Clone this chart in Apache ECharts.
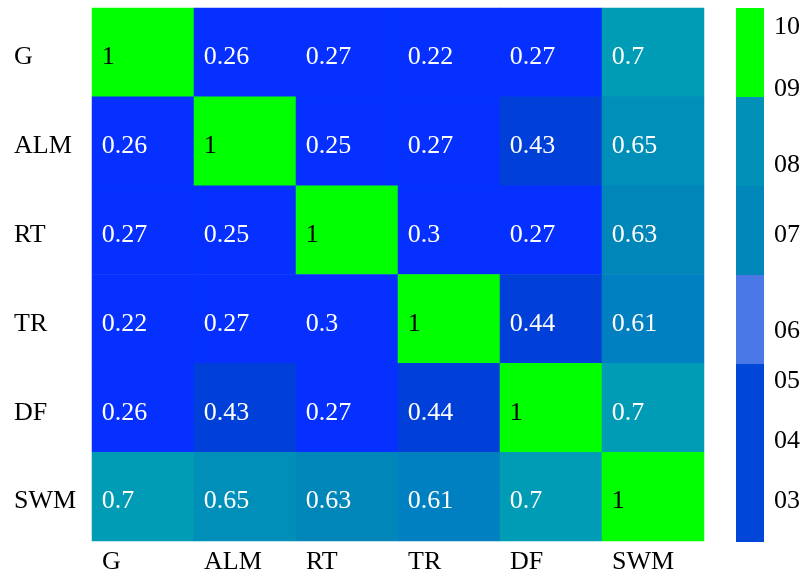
<!DOCTYPE html>
<html>
<head>
<meta charset="utf-8">
<script src="https://cdn.jsdelivr.net/npm/echarts@6/dist/echarts.min.js"></script>
<style>html,body{margin:0;padding:0;background:#fff;}#c{width:803px;height:575px;}</style>
</head>
<body>
<div id="c"></div>
<script>
// ---- data ----
var categories = ['G', 'ALM', 'RT', 'TR', 'DF', 'SWM'];
var rowG   = [1, 0.26, 0.27, 0.22, 0.27, 0.7];
var rowALM = [0.26, 1, 0.25, 0.27, 0.43, 0.65];
var rowRT  = [0.27, 0.25, 1, 0.3, 0.27, 0.63];
var rowTR  = [0.22, 0.27, 0.3, 1, 0.44, 0.61];
var rowDF  = [0.26, 0.43, 0.27, 0.44, 1, 0.7];
var rowSWM = [0.7, 0.65, 0.63, 0.61, 0.7, 1];
var matrix = [rowG, rowALM, rowRT, rowTR, rowDF, rowSWM];

// colour bar: band heights (bottom to top) and tick labels with their positions
var cbBandSizes = [2, 1, 1, 1, 1];
var cbTickLabels = ['03', '04', '05', '06', '07', '08', '09', '10'];
var cbTickPos = [0.48, 1.15, 1.83, 2.39, 3.47, 4.255, 5.105, 5.805];

// ---- styles ----
var FONT = 'Liberation Serif';
var cbBandColors = ['#0046d8', '#4a78e6', '#0086b9', '#0090b8', '#00ff00'];
var pieces = [
  {gte: 0.95, color: '#00ff00'},
  {gte: 0.69, lt: 0.95, color: '#009bb5'},
  {gte: 0.64, lt: 0.69, color: '#008fb8'},
  {gte: 0.62, lt: 0.64, color: '#0086b9'},
  {gte: 0.5, lt: 0.62, color: '#0080c0'},
  {gte: 0.4, lt: 0.5, color: '#0040d8'},
  {lt: 0.4, color: '#0530ff'}
];

var heatData = [];
matrix.forEach(function (row, yi) {
  row.forEach(function (v, xi) {
    heatData.push({value: [xi, yi, v], label: {color: v === 1 ? '#000000' : '#ffffff'}});
  });
});

var cbSeries = cbBandSizes.map(function (s, i) {
  return {
    type: 'bar', xAxisIndex: 2, yAxisIndex: 1, stack: 'cb',
    data: [s], barWidth: '100%', silent: true,
    itemStyle: {color: cbBandColors[i]}
  };
});

var chart = echarts.init(document.getElementById('c'));
chart.setOption({
  animation: false,
  backgroundColor: '#ffffff',
  textStyle: {fontFamily: FONT},
  grid: [
    {left: 92, top: 8, width: 612, height: 534},
    {left: 736, top: 8, width: 29, height: 534}
  ],
  xAxis: [
    {type: 'category', gridIndex: 0, data: categories, show: false},
    {type: 'value', gridIndex: 0, min: 0, max: 6, interval: 1, position: 'bottom',
      axisLine: {show: false}, axisTick: {show: false}, splitLine: {show: false},
      axisLabel: {
        formatter: function (v) { return categories[v] || ''; },
        align: 'left', padding: [0, 0, 0, 10], margin: 8,
        fontFamily: FONT, fontSize: 26, color: '#000'
      }},
    {type: 'category', gridIndex: 1, data: ['c'], show: false}
  ],
  yAxis: [
    {type: 'category', gridIndex: 0, data: categories, inverse: true,
      axisLine: {show: false}, axisTick: {show: false}, splitLine: {show: false},
      axisLabel: {align: 'left', margin: 78, verticalAlign: 'top', lineHeight: 10,
        fontFamily: FONT, fontSize: 26, color: '#000'}},
    {type: 'value', gridIndex: 1, min: 0, max: 6, position: 'right',
      axisLine: {show: false}, axisTick: {show: false}, splitLine: {show: false},
      axisLabel: {
        customValues: cbTickPos,
        formatter: function (v) {
          var best = 0, d = 1e9;
          cbTickPos.forEach(function (p, i) { if (Math.abs(p - v) < d) { d = Math.abs(p - v); best = i; } });
          return cbTickLabels[best];
        },
        margin: 10, verticalAlign: 'top', lineHeight: 4,
        fontFamily: FONT, fontSize: 26, color: '#000'
      }}
  ],
  visualMap: {
    show: false, type: 'piecewise', seriesIndex: 0, dimension: 2, pieces: pieces
  },
  series: [{
    type: 'heatmap', xAxisIndex: 0, yAxisIndex: 0, data: heatData,
    label: {
      show: true, position: 'insideLeft', distance: 10, offset: [0, 5],
      fontFamily: FONT, fontSize: 26,
      formatter: function (p) { return String(p.value[2]); }
    },
    itemStyle: {borderWidth: 0},
    emphasis: {disabled: true}
  }].concat(cbSeries)
});
</script>
</body>
</html>
